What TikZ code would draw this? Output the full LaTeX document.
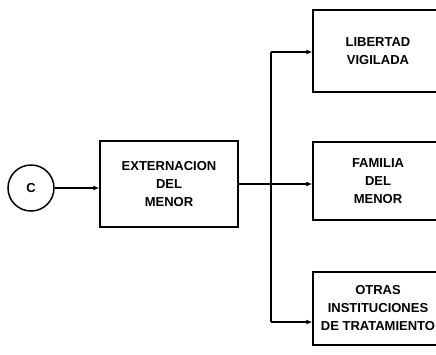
\documentclass[tikz,border=0pt]{standalone}
\usepackage{fontspec}
\setmainfont{Liberation Sans}
\usetikzlibrary{arrows.meta}

\begin{document}
\begin{tikzpicture}[x=1pt,y=-1pt,
	caja/.style={draw,line width=1.5pt,align=center,inner sep=0pt,
		font=\bfseries\fontsize{13}{18}\selectfont},
	flecha/.style={-{Latex[length=6pt,width=5pt]},line width=1.1pt}]
	\useasboundingbox (0,0) rectangle (436,354);
	\node[draw,circle,line width=1.5pt,minimum size=46pt,font=\bfseries\fontsize{13}{16}\selectfont] (c) at (31,188) {C};
	\node[caja,minimum width=138pt,minimum height=86pt] (ext) at (169,184) {EXTERNACION\\DEL\\MENOR};
	\foreach \Y/\H/\R/\T [count=\Z] in {51/82/52/{LIBERTAD\\VIGILADA}, 181/78/184/{FAMILIA\\DEL\\MENOR}, 308.5/73/322/{OTRAS\\INSTITUCIONES\\DE TRATAMIENTO}}
	{\node[caja,minimum width=130pt,minimum height=\H pt] (b\Z) at (378,\Y) {\T};
	\coordinate (r\Z) at (271,\R);
	\draw[flecha] (r\Z) -- (r\Z -| b\Z.west);}
	\draw[line width=1.1pt] (r1) -- (r3);
	\draw[line width=1.1pt] (ext.east |- r2) -- (r2);
	\draw[flecha] (c.east) -- (c.east -| ext.west);
\end{tikzpicture}
\end{document}
